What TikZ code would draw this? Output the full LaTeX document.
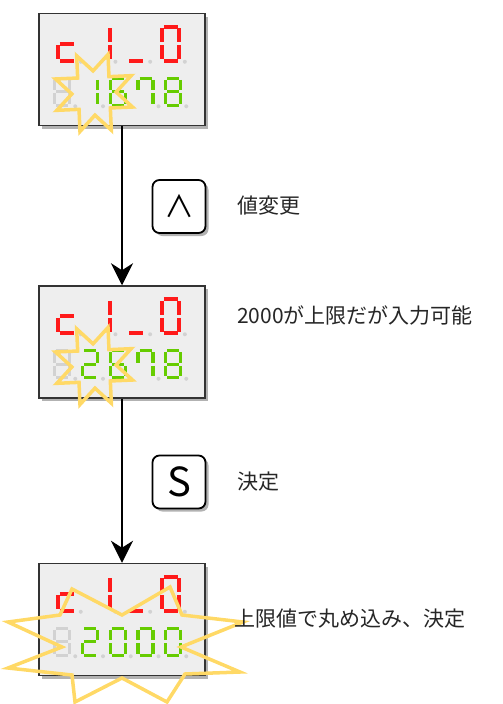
\documentclass[tikz,border=0pt]{standalone}
\usepackage{fontspec}
\setmainfont{Noto Sans CJK JP}
\usetikzlibrary{arrows.meta,shadows,shapes.geometric}

\definecolor{segred}{HTML}{FF1A1A}
\definecolor{seggreen}{HTML}{66CC00}
\definecolor{segoff}{HTML}{D2D2D2}
\definecolor{burstyellow}{HTML}{FFD966}
\definecolor{panelbg}{HTML}{EEEEEE}

% one seven-segment digit: x, y, row style, colour, segments (1..7 = a..g)
\newcommand\digit[5]{%
  \begin{scope}[shift={(#1,#2)},#3]
    \foreach \s in {#5}{%
      \ifcase\s\or
        \draw[seg,#4] (0,0)--(1,0);\or
        \draw[seg,#4] (1,0)--(1,1);\or
        \draw[seg,#4] (1,1)--(1,2);\or
        \draw[seg,#4] (0,2)--(1,2);\or
        \draw[seg,#4] (0,1)--(0,2);\or
        \draw[seg,#4] (0,0)--(0,1);\or
        \draw[seg,#4] (0,1)--(1,1);\fi}
    \fill[segoff] (1,2) ++(5.5pt,-1pt) circle (2pt);
  \end{scope}}

\newcommand\readout[5]{%
  \begin{scope}[shift={(#1.north west)}]
    \digit{20}{14}{toprow}{segred}{4,5,7}
    \digit{54.7}{14}{toprow}{segred}{2,3}
    \digit{89.4}{14}{toprow}{segred}{4}
    \digit{124.1}{14}{toprow}{segred}{1,2,3,4,5,6}
    \digit{16.5}{65.5}{botrow}{segoff}{1,2,3,4,5,6,7}
    \digit{44.25}{65.5}{botrow}{seggreen}{#2}
    \digit{72}{65.5}{botrow}{seggreen}{#3}
    \digit{99.75}{65.5}{botrow}{seggreen}{#4}
    \digit{127.5}{65.5}{botrow}{seggreen}{#5}
  \end{scope}}

\begin{document}
\begin{tikzpicture}[x=1pt,y=-1pt,
    panel/.style={draw=black!80,line width=1.5pt,fill=panelbg,minimum width=166pt,minimum height=112pt,
        drop shadow={shadow xshift=3pt,shadow yshift=-3pt,opacity=.3,fill=black}},
    key/.style={draw,line width=1.8pt,fill=white,rounded corners=7pt,minimum size=53pt,inner sep=0pt,
        drop shadow={shadow xshift=3pt,shadow yshift=-3pt,opacity=.3,fill=black}},
    note/.style={anchor=west,text=black!85,inner sep=0pt,font=\fontsize{21}{25}\selectfont},
    flow/.style={-{Stealth[length=22pt,width=22pt,inset=7pt]},line width=1.6pt},
    seg/.style={shorten <=1.5pt,shorten >=1.5pt},
    toprow/.style={x=17pt,y=-17pt,line width=4pt},
    botrow/.style={x=15pt,y=-13.5pt,line width=3.4pt},
    burst/.style={draw=burstyellow,line width=3.5pt},
    burst8/.style={burst,star,star points=8,star point ratio=1.85,minimum size=82pt,inner sep=0pt,shape border rotate=-20}]

    \useasboundingbox (0,0) rectangle (503,704);

    \node[panel] (disp1) at (122,69.5) {};
    \node[panel] (disp2) at (122,342) {};
    \node[panel] (disp3) at (122,619.5) {};

    \readout{disp1}{2,3}{1,6,7,5,3,4}{1,2,3,6}{1,2,3,4,5,6,7}
    \readout{disp2}{1,2,7,5,4}{1,6,7,5,3,4}{1,2,3,6}{1,2,3,4,5,6,7}
    \readout{disp3}{1,2,7,5,4}{1,2,3,4,5,6}{1,2,3,4,5,6}{1,2,3,4,5,6}

    \node[burst8] (burst1) at (94,93) {};
    \node[burst8] (burst2) at (94,366) {};
    \draw[burst] (72,589) -- (122,615) -- (170,587) -- (182,615) -- (243,622) -- (181,647)
        -- (240,672) -- (185,674) -- (167,702) -- (122,678) -- (75,702) -- (72,675)
        -- (8,668) -- (62,647) -- (8,622) -- (60,615) -- cycle;

    \node[key,font=\fontsize{30}{30}\selectfont] (up) at (179,206.5) {∧};
    \node[key,font=\fontsize{40}{40}\selectfont] (set) at (179,482) {S};

    \node[note] (n1) at (237,206) {値変更};
    \node[note] (n2) at (237,315) {2000が上限だが入力可能};
    \node[note] (n3) at (237,482) {決定};
    \node[note] (n4) at (234,619) {上限値で丸め込み、決定};

    \draw[flow] (disp1) -- (disp2);
    \draw[flow] (disp2) -- (disp3);
\end{tikzpicture}
\end{document}
